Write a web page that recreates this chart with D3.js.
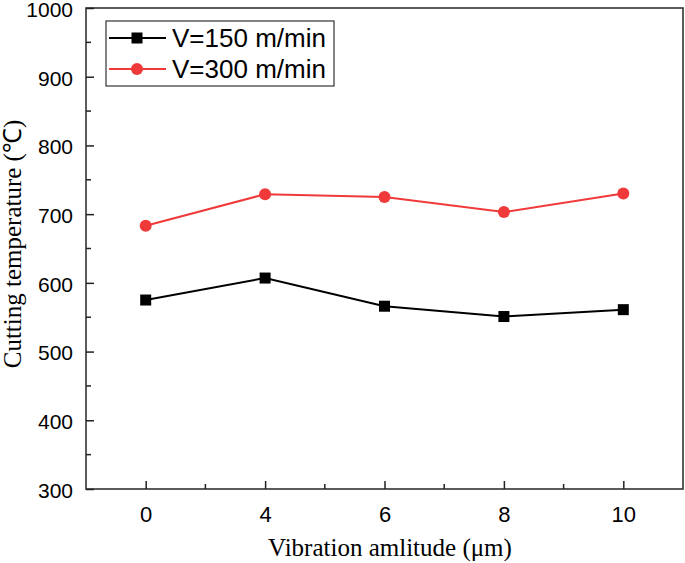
<!DOCTYPE html>
<html>
<head>
<meta charset="utf-8">
<script src="https://cdn.jsdelivr.net/npm/d3@7"></script>
<style>
  html, body { margin: 0; padding: 0; background: #fff; }
  svg { display: block; }
</style>
</head>
<body>
<svg id="chart" width="685" height="563"></svg>
<script>
const categories = ["0", "4", "6", "8", "10"];
const seriesNames = ["V=150 m/min", "V=300 m/min"];
const v150 = [575, 607, 566, 551, 561];
const v300 = [683, 729, 725, 703, 730];
const yTicks = [300, 400, 500, 600, 700, 800, 900, 1000];

(function () {
const svg = d3.select("#chart");
const pLeft = 86, pRight = 683, pTop = 8, pBottom = 489;

const x = d3.scaleLinear().domain([-0.5, categories.length - 0.5]).range([pLeft, pRight]);
const y = d3.scaleLinear().domain([300, 1000]).range([pBottom, pTop]);

const axisColor = "#222";
const sans = "Arial, 'Liberation Sans', sans-serif";
const serif = "'Liberation Serif', 'Times New Roman', serif";

// frame
svg.append("rect").attr("x", pLeft).attr("y", pTop).attr("width", pRight - pLeft).attr("height", pBottom - pTop)
  .attr("fill", "none").attr("stroke", "#333").attr("stroke-width", 1.6);

// y axis ticks (inward)
const yAxis = d3.axisLeft(y).tickValues(yTicks).tickFormat(d3.format("d"))
  .tickSizeInner(-8).tickSizeOuter(0).tickPadding(13);
const gy = svg.append("g").attr("transform", `translate(${pLeft},0)`).call(yAxis);
gy.select(".domain").remove();
gy.selectAll(".tick line").attr("stroke", axisColor).attr("stroke-width", 1.5);
gy.selectAll(".tick text").attr("font-family", sans).attr("font-size", 21).attr("fill", "#000")
  .attr("dy", "0.4em");
// minor y ticks
const yMinor = d3.range(350, 1000, 100);
svg.append("g").selectAll("line").data(yMinor).join("line")
  .attr("x1", pLeft).attr("x2", pLeft + 5).attr("y1", d => y(d)).attr("y2", d => y(d))
  .attr("stroke", axisColor).attr("stroke-width", 1.5);

// x axis ticks (inward)
const xAxis = d3.axisBottom(x).tickValues(d3.range(categories.length)).tickFormat(i => categories[i])
  .tickSizeInner(-8).tickSizeOuter(0).tickPadding(17);
const gx = svg.append("g").attr("transform", `translate(0,${pBottom})`).call(xAxis);
gx.select(".domain").remove();
gx.selectAll(".tick line").attr("stroke", axisColor).attr("stroke-width", 1.5);
gx.selectAll(".tick text").attr("font-family", sans).attr("font-size", 22).attr("fill", "#000");
const xMinor = d3.range(0.5, categories.length - 1, 1);
svg.append("g").selectAll("line").data(xMinor).join("line")
  .attr("x1", d => x(d)).attr("x2", d => x(d)).attr("y1", pBottom).attr("y2", pBottom - 5)
  .attr("stroke", axisColor).attr("stroke-width", 1.5);

// axis titles
svg.append("text").attr("x", 390).attr("y", 556).attr("text-anchor", "middle")
  .attr("font-family", serif).attr("font-size", 25).attr("fill", "#000")
  .text("Vibration amlitude (μm)");
svg.append("text").attr("transform", `translate(21,${244}) rotate(-90)`).attr("text-anchor", "middle")
  .attr("font-family", serif).attr("font-size", 25).attr("fill", "#000")
  .text("Cutting temperature (℃)");

const red = "#f03a3a";
const line = d3.line().x((d, i) => x(i)).y(d => y(d));

svg.append("path").datum(v150).attr("d", line).attr("fill", "none").attr("stroke", "#000").attr("stroke-width", 2);
svg.append("path").datum(v300).attr("d", line).attr("fill", "none").attr("stroke", red).attr("stroke-width", 2);

svg.append("g").selectAll("rect").data(v150).join("rect")
  .attr("x", (d, i) => x(i) - 5.5).attr("y", d => y(d) - 5.5).attr("width", 11).attr("height", 11).attr("fill", "#000");
svg.append("g").selectAll("circle").data(v300).join("circle")
  .attr("cx", (d, i) => x(i)).attr("cy", d => y(d)).attr("r", 6).attr("fill", red);

// legend
const lg = svg.append("g");
lg.append("rect").attr("x", 106).attr("y", 21).attr("width", 228).attr("height", 65)
  .attr("fill", "#fff").attr("stroke", "#333").attr("stroke-width", 1.2);
const legendItems = [{name: seriesNames[0], color: "#000", shape: "square", cy: 38},
                     {name: seriesNames[1], color: red, shape: "circle", cy: 69}];
legendItems.forEach(it => {
  lg.append("line").attr("x1", 109).attr("x2", 166).attr("y1", it.cy).attr("y2", it.cy)
    .attr("stroke", it.color).attr("stroke-width", 2);
  if (it.shape === "square") {
    lg.append("rect").attr("x", 137 - 5.5).attr("y", it.cy - 5.5).attr("width", 11).attr("height", 11).attr("fill", it.color);
  } else {
    lg.append("circle").attr("cx", 137).attr("cy", it.cy).attr("r", 6).attr("fill", it.color);
  }
  lg.append("text").attr("x", 172).attr("y", it.cy + 9).attr("font-family", sans)
    .attr("font-size", 26).attr("fill", "#000").text(it.name);
});
})();
</script>
</body>
</html>
